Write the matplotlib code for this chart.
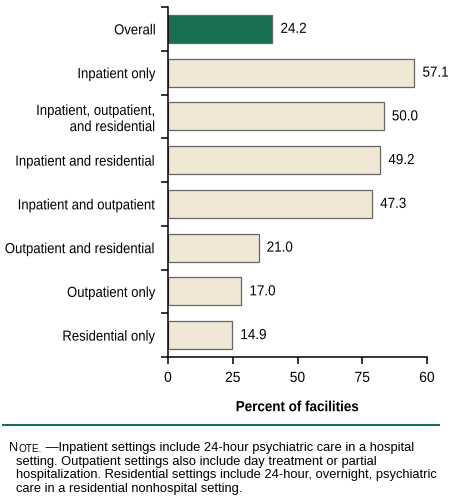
import matplotlib
matplotlib.use('Agg')
import matplotlib.pyplot as plt
import matplotlib.patheffects as pe
from matplotlib.transforms import Affine2D
from matplotlib.lines import Line2D

categories = ["Overall", "Inpatient only", "Inpatient, outpatient,\nand residential",
              "Inpatient and residential", "Inpatient and outpatient",
              "Outpatient and residential", "Outpatient only", "Residential only"]
values = [24.2, 57.1, 50.0, 49.2, 47.3, 21.0, 17.0, 14.9]
tick_pos = [0, 15, 30, 45, 60]
tick_labels = ["0", "25", "50", "75", "60"]

plt.rcParams['font.family'] = ['Liberation Sans', 'DejaVu Sans']


# no condensed font installed, so squeeze the glyphs sideways
class Squeeze(pe.AbstractPathEffect):
    def __init__(self, sx=0.9, anchor='left'):
        super().__init__()
        self.sx = sx
        self.anchor = anchor

    def draw_path(self, renderer, gc, tpath, affine, rgbFace=None):
        ext = tpath.get_extents(affine)
        x0 = {'left': ext.x0, 'right': ext.x1, 'center': (ext.x0 + ext.x1) / 2}[self.anchor]
        aff = affine + Affine2D().translate(-x0, 0).scale(self.sx, 1).translate(x0, 0)
        renderer.draw_path(gc, tpath, aff, rgbFace)


FS = 10.5
fig = plt.figure(figsize=(4.5, 5.03), dpi=100)
ax = fig.add_axes([168/450, 1-357/503, (427-168)/450, (357-7)/503])

n = len(values)
ypos = list(range(n))
colors = ["#17704f"] + ["#f0e8d5"] * (n - 1)
ax.barh(ypos, values, height=0.64, color=colors, edgecolor="#666666", linewidth=0.9)
for y, v in zip(ypos, values):
    ax.text(v + 1.85, y, "%.1f" % v, va='center', ha='left', fontsize=FS,
            path_effects=[Squeeze(0.92, 'left')])

ax.set_ylim(n - 0.5, -0.5)
ax.set_xlim(0, 60)
ax.set_yticks([i - 0.5 for i in range(n + 1)])
ax.set_yticklabels([])
ax.set_yticks(ypos, minor=True)
ax.set_yticklabels(categories, minor=True, fontsize=FS, ha='right', multialignment='right',
                   path_effects=[Squeeze(0.9, 'right')])
ax.tick_params(axis='y', which='major', length=5, width=1.1)
ax.tick_params(axis='y', which='minor', length=0, pad=8.5)
ax.set_xticks(tick_pos)
ax.set_xticklabels(tick_labels, fontsize=FS, path_effects=[Squeeze(0.95, 'center')])
ax.tick_params(axis='x', length=5, width=1.1, pad=5)
for s in ['top', 'right']:
    ax.spines[s].set_visible(False)
for s in ['left', 'bottom']:
    ax.spines[s].set_linewidth(1.1)
ax.set_xlabel("Percent of facilities", fontsize=FS, fontweight='bold', labelpad=11,
              path_effects=[Squeeze(0.92, 'center')])

fig.add_artist(Line2D([3/450, 439/450], [1-425/503, 1-425/503], color="#17704f", linewidth=1.5))

note_font = ['Liberation Sans', 'DejaVu Sans']
n_txt = fig.text(9/450, 1-451/503, "N", fontsize=9.3, va='baseline', family=note_font)
ote = plt.annotate("OTE.", xy=(1, 0), xycoords=n_txt, fontsize=7.2, va='bottom',
                   family=note_font)
plt.annotate(" \u2014Inpatient settings include 24-hour psychiatric care in a hospital",
             xy=(1, 0), xycoords=ote, fontsize=9.3, va='bottom', family=note_font)
note_rest = ["setting. Outpatient settings also include day treatment or partial",
             "hospitalization. Residential settings include 24-hour, overnight, psychiatric",
             "care in a residential nonhospital setting."]
for i, line in enumerate(note_rest):
    fig.text(16/450, 1-(464.7 + 13.7*i)/503, line, fontsize=9.3, va='baseline',
             family=note_font)

fig.savefig("out.png", dpi=100)
